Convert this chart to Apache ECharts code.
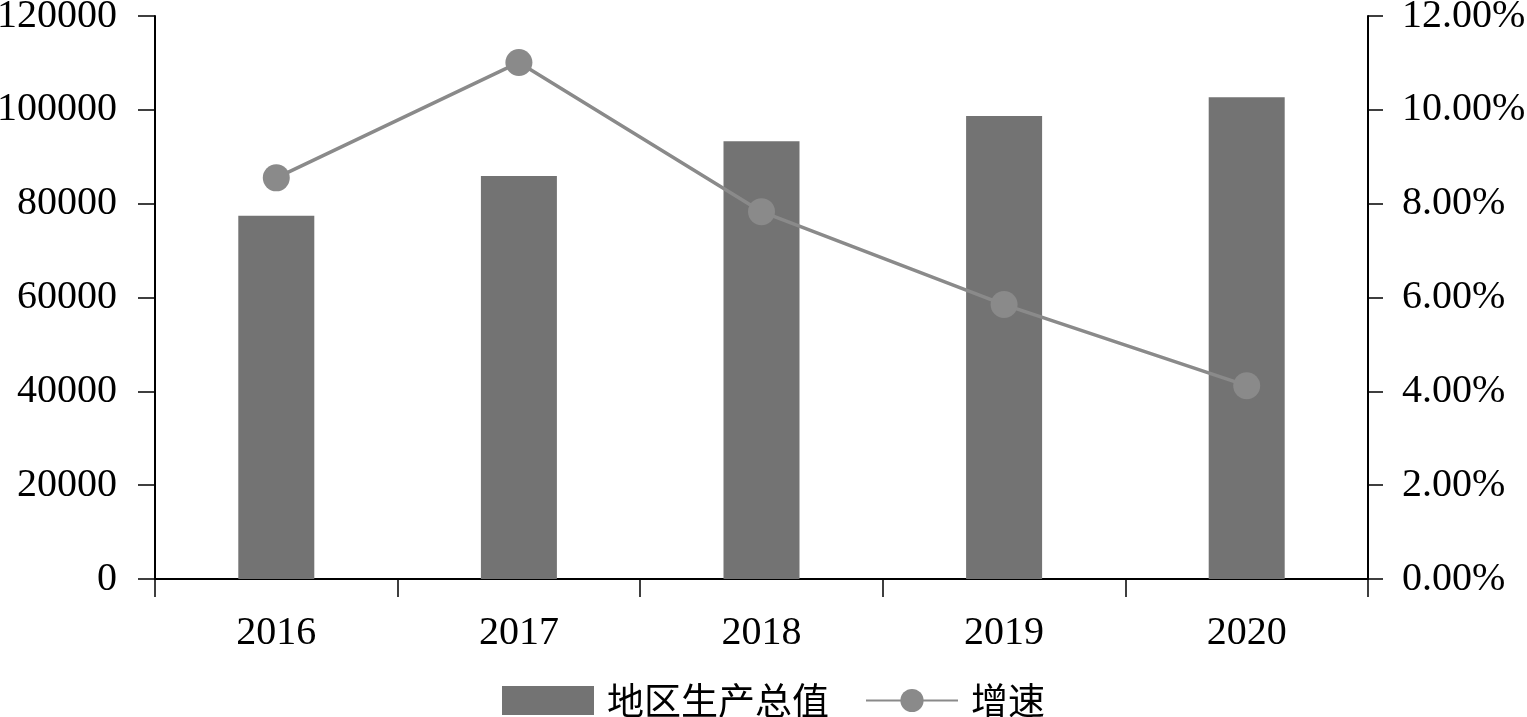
<!DOCTYPE html>
<html>
<head>
<meta charset="utf-8">
<script src="https://cdn.jsdelivr.net/npm/echarts@6/dist/echarts.min.js"></script>
<style>
html,body{margin:0;padding:0;background:#fff;}
#chart{width:1527px;height:717px;}
</style>
</head>
<body>
<div id="chart"></div>
<script>
var years = ['2016', '2017', '2018', '2019', '2020'];
var gdpValues = [77400, 85900, 93300, 98700, 102700];
var growthRates = [8.55, 11.01, 7.83, 5.85, 4.12];
var barName = '地区生产总值';
var lineName = '增速';

var serif = '"Liberation Serif", "Times New Roman", serif';
var cjk = '"Noto Sans CJK SC", sans-serif';

var chart = echarts.init(document.getElementById('chart'));
chart.setOption({
  animation: false,
  backgroundColor: '#ffffff',
  grid: { left: 155, right: 159, top: 16, bottom: 138, containLabel: false, outerBoundsMode: 'none' },
  legend: {
    top: 677,
    left: 497,
    itemWidth: 92,
    itemHeight: 29,
    itemGap: 36,
    textStyle: { fontFamily: cjk, fontSize: 37, color: '#000', padding: [0, 0, 0, 8] },
    data: [
      { name: barName, icon: 'rect' },
      { name: lineName }
    ]
  },
  xAxis: {
    type: 'category',
    data: years,
    boundaryGap: true,
    axisLine: { lineStyle: { color: '#000', width: 2 } },
    axisTick: { show: true, length: 18, lineStyle: { color: '#000', width: 1.5 } },
    axisLabel: { fontFamily: serif, fontSize: 40, color: '#000', margin: 34 }
  },
  yAxis: [
    {
      type: 'value',
      min: 0, max: 120000, interval: 20000,
      axisLine: { show: true, lineStyle: { color: '#000', width: 2 } },
      axisTick: { show: true, length: 17, lineStyle: { color: '#000', width: 1.5 } },
      splitLine: { show: false },
      axisLabel: {
        fontFamily: serif, fontSize: 40, color: '#000', margin: 38,
        formatter: function (v) { return String(v); }
      }
    },
    {
      type: 'value',
      min: 0, max: 12, interval: 2,
      position: 'right',
      axisLine: { show: true, lineStyle: { color: '#000', width: 2 } },
      axisTick: { show: true, length: 15, lineStyle: { color: '#000', width: 1.5 } },
      splitLine: { show: false },
      axisLabel: {
        fontFamily: serif, fontSize: 40, color: '#000', margin: 34,
        formatter: function (v) { return v.toFixed(2) + '%'; }
      }
    }
  ],
  series: [
    {
      name: barName,
      type: 'bar',
      data: gdpValues,
      barWidth: 76,
      itemStyle: { color: '#737373' }
    },
    {
      name: lineName,
      type: 'line',
      yAxisIndex: 1,
      data: growthRates,
      symbol: 'circle',
      symbolSize: 27,
      lineStyle: { color: '#8a8a8a', width: 3.5 },
      itemStyle: { color: '#8a8a8a' }
    }
  ]
});
</script>
</body>
</html>
